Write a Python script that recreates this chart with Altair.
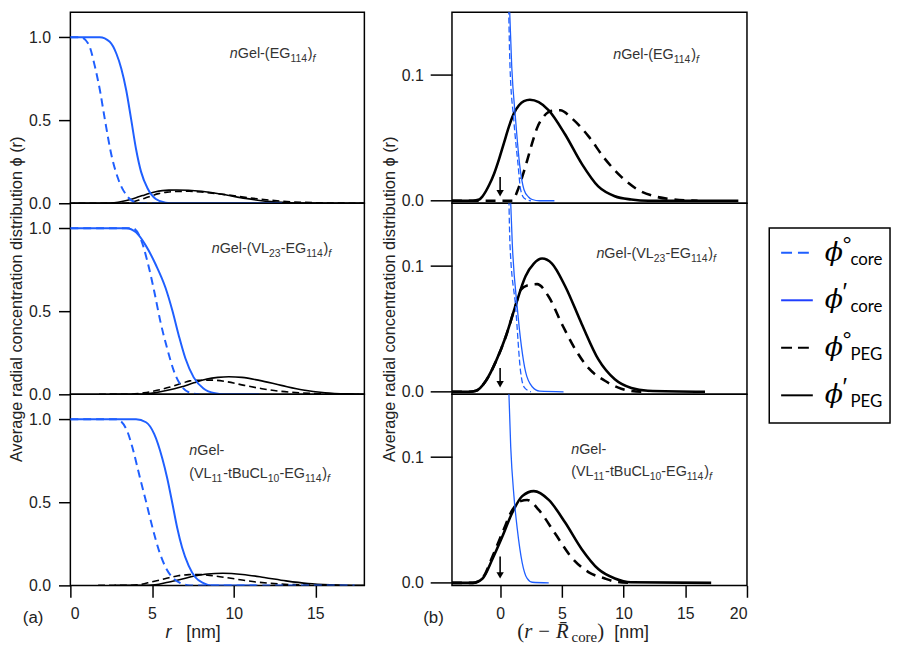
import altair as alt
import pandas as pd

# ---------------- values ----------------
# (a) core profiles phi(r); r in nm. CORE0 = phi°core (dashed), CORE1 = phi'core (solid)
CORE0_R = [
    [0, 0.6, 1.1, 1.51, 1.81, 2.11, 2.52, 2.92, 3.42, 4.02, 4.5, 6.0],
    [0, 3.82, 4.33, 4.73, 5.13, 5.53, 5.93, 6.34, 6.84, 7.44, 7.9],
    [0, 2.82, 3.42, 3.82, 4.22, 4.63, 5.03, 5.43, 5.83, 6.24, 6.74, 7.3, 17.4],
]
CORE0_PHI = [
    [1.0, 1.0, 0.96, 0.82, 0.68, 0.506, 0.288, 0.149, 0.05, 0.005, 0.0, 0.0],
    [1.0, 1.0, 0.93, 0.795, 0.622, 0.43, 0.275, 0.14, 0.044, 0.006, 0.0],
    [1.0, 1.0, 0.942, 0.823, 0.664, 0.506, 0.347, 0.208, 0.109, 0.049, 0.014, 0.0, 0.0],
]
CORE1_R = [
    [0, 1.8, 2.41, 2.82, 3.12, 3.42, 3.72, 4.02, 4.33, 4.73, 5.23, 5.83, 6.4, 12.97],
    [0, 3.42, 4.02, 4.62, 5.23, 5.83, 6.24, 6.64, 7.04, 7.55, 8.15, 8.85, 9.4, 11.56],
    [0, 4.02, 4.63, 5.13, 5.63, 5.93, 6.24, 6.54, 6.84, 7.24, 7.65, 8.15, 8.65, 11.37],
]
CORE1_PHI = [
    [1.0, 1.0, 0.972, 0.90, 0.81, 0.68, 0.506, 0.327, 0.189, 0.089, 0.026, 0.004, 0.0, 0.0],
    [1.0, 1.0, 0.975, 0.895, 0.78, 0.64, 0.506, 0.353, 0.217, 0.102, 0.035, 0.006, 0.0, 0.0],
    [1.0, 1.0, 0.982, 0.912, 0.764, 0.645, 0.496, 0.347, 0.228, 0.119, 0.049, 0.014, 0.0, 0.0],
]

# (b) core tails vs (r - Rcore)
TAIL0_U = [[0.68, 0.8, 1.1, 1.45, 1.66, 1.95, 2.5], [0.7, 0.8, 1.26, 1.66, 1.93, 2.5], []]
TAIL0_PHI = [[0.16, 0.107, 0.065, 0.029, 0.009, 0.002, 0.0], [0.16, 0.117, 0.067, 0.016, 0.004, 0.0], []]
TAIL1_U = [
    [0.74, 0.94, 1.25, 1.58, 1.93, 2.3, 2.6, 3.2, 4.4],
    [0.82, 0.99, 1.39, 2.06, 2.6, 3.2, 5.14],
    [0.68, 0.86, 1.12, 1.39, 1.79, 2.19, 2.6, 3.94],
]
TAIL1_PHI = [
    [0.16, 0.107, 0.065, 0.029, 0.009, 0.003, 0.001, 0.0, 0.0],
    [0.16, 0.117, 0.067, 0.016, 0.004, 0.0005, 0.0],
    [0.16, 0.108, 0.069, 0.043, 0.016, 0.0035, 0.0005, 0.0],
]

# PEG profiles vs (r - Rcore). PEG0 = phi°PEG (dashed), PEG1 = phi'PEG (solid)
PEG0_U = [
    [-3.9, 1.0, 1.39, 1.79, 2.19, 2.6, 3.0, 3.53, 4.2, 4.87, 5.81, 7.15, 8.49, 9.82, 11.16, 12.5, 14.1, 16.0],
    [-3.9, -2.5, -1.95, -1.15, -0.35, 0.46, 1.26, 1.66, 2.33, 3.0, 3.94, 5.0, 6.08, 7.15, 8.49, 9.82, 11.4, 12.0],
    [-3.9, -2.2, -1.42, -0.62, 0.19, 0.99, 1.66, 2.19, 3.13, 4.47, 5.81, 7.15, 8.49, 9.3, 10.5],
]
PEG0_PHI = [
    [0, 0, 0.0075, 0.019, 0.032, 0.046, 0.058, 0.067, 0.0716, 0.072, 0.0656, 0.0514, 0.0333, 0.019, 0.0088, 0.0036, 0.001, 0],
    [0, 0, 0.0008, 0.0088, 0.024, 0.044, 0.069, 0.081, 0.085, 0.0857, 0.0756, 0.054, 0.034, 0.019, 0.0088, 0.0025, 0, 0],
    [0, 0, 0.004, 0.021, 0.040, 0.058, 0.065, 0.066, 0.058, 0.039, 0.020, 0.0086, 0.0035, 0.001, 0],
]
PEG1_U = [
    [-3.9, -2.2, -1.69, -1.42, -0.88, -0.48, -0.08, 0.32, 0.72, 1.12, 1.53, 1.93, 2.41, 3.13, 3.94, 5.27, 6.61, 7.95, 9.29, 10.63, 12.0, 19.3],
    [-3.9, -2.5, -1.95, -1.15, -0.35, 0.46, 1.26, 2.06, 2.73, 3.4, 4.2, 5.27, 6.61, 7.95, 9.29, 10.63, 11.97, 16.6],
    [-3.9, -2.2, -1.42, -0.62, 0.19, 0.99, 1.79, 2.73, 3.94, 5.27, 6.6, 7.95, 9.3, 10.6, 17.1],
]
PEG1_PHI = [
    [0, 0, 0.001, 0.0036, 0.0127, 0.0217, 0.0333, 0.0463, 0.0592, 0.0695, 0.076, 0.0793, 0.0804, 0.0785, 0.072, 0.0527, 0.0295, 0.0114, 0.0036, 0.001, 0, 0],
    [0, 0, 0.0008, 0.0088, 0.024, 0.044, 0.069, 0.092, 0.102, 0.106, 0.102, 0.084, 0.054, 0.026, 0.010, 0.003, 0.0008, 0],
    [0, 0, 0.0035, 0.019, 0.037, 0.056, 0.069, 0.073, 0.066, 0.048, 0.027, 0.011, 0.0035, 0.0005, 0],
]
# mean core radii used to place the PEG profiles on the r axis (nm)
RCORE0 = [2.4, 5.65, 5.6]
RCORE1 = [4.1, 6.3, 6.6]
# arrows at r = Rcore
ARROW_TOP = [0.019, 0.019, 0.021]
ARROW_TIP = [0.006, 0.006, 0.006]

LEFT_TICKS_Y = [0, 0.5, 1.0]
LEFT_TICKS_X = [0, 5, 10, 15]
RIGHT_TICKS_Y = [0, 0.1]
RIGHT_TICKS_X = [0, 5, 10, 15, 20]

# sample labels: lines of (text, kind)
LABELS = [
    [[("n", "it"), ("Gel-(EG", "reg"), ("114", "sub"), (")", "reg"), ("f", "subit")]],
    [[("n", "it"), ("Gel-(VL", "reg"), ("23", "sub"), ("-EG", "reg"), ("114", "sub"), (")", "reg"), ("f", "subit")]],
    [[("n", "it"), ("Gel-", "reg")],
     [("(VL", "reg"), ("11", "sub"), ("-tBuCL", "reg"), ("10", "sub"), ("-EG", "reg"), ("114", "sub"), (")", "reg"), ("f", "subit")]],
]
LEFT_LABEL_AT = [[(9.76, 0.877)], [(8.65, 0.853)], [(7.28, 0.787), (7.28, 0.649)]]
RIGHT_LABEL_AT = [[(9.16, 0.113)], [(7.8, 0.1066)], [(5.76, 0.1026), (5.76, 0.0849)]]

LEGEND_NAMES = ["p0core", "p1core", "p0peg", "p1peg"]
LEGEND_SUP = ["°", "′", "°", "′"]
LEGEND_SUB = ["core", "core", "PEG", "PEG"]
LEGEND_COLOR = ["#1f5fff", "#1f3fff", "#000000", "#000000"]
LEGEND_DASHED = [True, False, True, False]

# ---------------- styling ----------------
SANS = "Liberation Sans"
SERIF = "Liberation Serif"
BLUE = "#1f5fff"
TXT = "#222222"
LBL = "#333333"
WL, WR, H = 297, 298, 193
YTITLE = "Average radial concentration distribution ϕ (r)"

ARIAL = {' ': .278, '-': .333, '(': .333, ')': .333, '[': .278, ']': .278, 'n': .556, 'm': .833,
         'G': .778, 'e': .556, 'l': .222, 'E': .667, 'V': .667, 'L': .556, 't': .278, 'B': .667,
         'u': .556, 'C': .722, 'f': .278, 'r': .333, 'a': .556}
TIMES = {'(': .333, ')': .333, ' ': .25, '−': .564, 'R': .611, 'c': .444, 'o': .5, 'r': .333, 'e': .444}


def width(text, size, font, italic=False):
    tab = ARIAL if font == SANS else TIMES
    w = 0.0
    for ch in text:
        if font == SERIF and italic and ch == 'r':
            w += 0.389
        else:
            w += tab.get(ch, 0.556 if ch.isdigit() else 0.0)
    return w * size


def rich(segs, df, enc):
    """segs: (text, size, font, italic, dy); text None = horizontal gap of `size` px"""
    out, off = [], 0.0
    for text, size, font, italic, dy in segs:
        if text is None:
            off += size
            continue
        out.append(alt.Chart(df).mark_text(
            text=text, align="left", baseline="alphabetic", dx=off, dy=dy,
            font=font, fontSize=size, fontStyle="italic" if italic else "normal",
            color=LBL if font == SANS and size < 16 else TXT
        ).encode(**enc))
        off += width(text, size, font, italic)
    return out


def label_segs(line, big=14.5, small=10.5):
    segs = []
    for text, kind in line:
        if kind == "reg":
            segs.append((text, big, SANS, False, 0))
        elif kind == "it":
            segs.append((text, big, SANS, True, 0))
        elif kind == "sub":
            segs.append((text, small, SANS, False, 4))
        else:
            segs.append((text, small, SANS, True, 4))
    return segs


def line_df(xs, ys):
    return pd.DataFrame({"x": xs, "y": ys})


ONE = pd.DataFrame({"x": [0.0], "y": [0.0]})


def panel(i, side):
    left = side == "L"
    bottom = i == 2
    if left:
        xs = alt.Scale(domain=[0, 18], nice=False, zero=False)
        ys = alt.Scale(domain=[0, 1.15], nice=False)
        xa = alt.Axis(values=LEFT_TICKS_X, format="d", tickSize=12, labelPadding=8, title=None) if bottom else None
        ya = alt.Axis(values=LEFT_TICKS_Y, format=".1f", tickSize=12, labelPadding=8,
                      title=YTITLE if i == 1 else None, titlePadding=4)
        W = WL
    else:
        xs = alt.Scale(domain=[-3.9, 20], nice=False, zero=False)
        ys = alt.Scale(domain=[-0.002, 0.15], nice=False)
        xa = alt.Axis(values=RIGHT_TICKS_X, format="d", tickSize=12, labelPadding=8, title=None) if bottom else None
        ya = alt.Axis(values=RIGHT_TICKS_Y, format=".1f", tickSize=22, labelPadding=7,
                      title=YTITLE if i == 1 else None, titlePadding=4)
        W = WR
    enc = dict(x=alt.X("x:Q", scale=xs, axis=xa), y=alt.Y("y:Q", scale=ys, axis=ya))
    layers = []
    if left:
        peg0 = line_df([u + RCORE0[i] for u in PEG0_U[i]], PEG0_PHI[i])
        peg1 = line_df([u + RCORE1[i] for u in PEG1_U[i]], PEG1_PHI[i])
        c0 = line_df(CORE0_R[i], CORE0_PHI[i])
        c1 = line_df(CORE1_R[i], CORE1_PHI[i])
        layers.append(alt.Chart(peg0).mark_line(color="black", strokeWidth=1.6, strokeDash=[7, 4],
                                                interpolate="monotone", clip=True).encode(**enc))
        layers.append(alt.Chart(peg1).mark_line(color="black", strokeWidth=1.6,
                                                interpolate="monotone", clip=True).encode(**enc))
        layers.append(alt.Chart(c0).mark_line(color=BLUE, strokeWidth=2, strokeDash=[8, 5],
                                              interpolate="monotone", clip=True).encode(**enc))
        layers.append(alt.Chart(c1).mark_line(color=BLUE, strokeWidth=2,
                                              interpolate="monotone", clip=True).encode(**enc))
        at = LEFT_LABEL_AT[i]
    else:
        peg0 = line_df(PEG0_U[i], PEG0_PHI[i])
        peg1 = line_df(PEG1_U[i], PEG1_PHI[i])
        layers.append(alt.Chart(peg0).mark_line(color="black", strokeWidth=2.6, strokeDash=[10, 7],
                                                interpolate="monotone", clip=True).encode(**enc))
        layers.append(alt.Chart(peg1).mark_line(color="black", strokeWidth=2.6,
                                                interpolate="monotone", clip=True).encode(**enc))
        if TAIL0_U[i]:
            layers.append(alt.Chart(line_df(TAIL0_U[i], TAIL0_PHI[i])).mark_line(
                color=BLUE, strokeWidth=1.3, strokeDash=[6, 3], interpolate="monotone", clip=True).encode(**enc))
        layers.append(alt.Chart(line_df(TAIL1_U[i], TAIL1_PHI[i])).mark_line(
            color=BLUE, strokeWidth=1.3, interpolate="monotone", clip=True).encode(**enc))
        arrow = pd.DataFrame({"x": [0.0], "y": [ARROW_TOP[i]], "y2": [ARROW_TIP[i]]})
        layers.append(alt.Chart(arrow).mark_rule(color="black", strokeWidth=1.6).encode(
            x=enc["x"], y=enc["y"], y2="y2:Q"))
        tip = pd.DataFrame({"x": [0.0], "y": [ARROW_TIP[i]]})
        layers.append(alt.Chart(tip).mark_point(shape="triangle-down", filled=True, color="black",
                                                size=55, opacity=1).encode(**enc))
        at = RIGHT_LABEL_AT[i]
    for line, (lx, ly) in zip(LABELS[i], at):
        layers += rich(label_segs(line), pd.DataFrame({"x": [lx], "y": [ly]}), enc)
    if bottom:
        pen = dict(y=alt.value(H + 38))
        tp = dict(y=alt.value(H + 53))
        if left:
            layers += rich([("(a)", 17, SANS, False, 0)], ONE, dict(x=alt.value(-48), **pen))
            layers += rich([("r", 18, SANS, True, 0)], ONE, dict(x=alt.value(96), **tp))
            layers += rich([("[nm]", 18, SANS, False, 0)], ONE, dict(x=alt.value(117), **tp))
        else:
            layers += rich([("(b)", 17, SANS, False, 0)], ONE, dict(x=alt.value(-29), **pen))
            segs = [("(", 21, SERIF, False, 0), ("r", 21, SERIF, True, 0), (None, 6, None, False, 0),
                    ("−", 21, SERIF, False, 0), (None, 6, None, False, 0),
                    ("R̄", 21, SERIF, True, 0), (None, 3, None, False, 0),
                    ("core", 15, SERIF, False, 4), (")", 21, SERIF, False, 0)]
            layers += rich(segs, ONE, dict(x=alt.value(66), **tp))
            layers += rich([("[nm]", 18, SANS, False, 0)], ONE, dict(x=alt.value(164), **tp))
    return alt.layer(*layers).properties(width=W, height=H)


left = alt.vconcat(*[panel(i, "L") for i in range(3)], spacing=0, bounds="flush")
right = alt.vconcat(*[panel(i, "R") for i in range(3)], spacing=0, bounds="flush")

# ---------------- legend ----------------
LW, LH = 122, 415
leg = pd.DataFrame({"name": LEGEND_NAMES, "sup": LEGEND_SUP, "sub": LEGEND_SUB,
                    "col": LEGEND_COLOR, "dashed": LEGEND_DASHED})
ly = alt.Y("name:N", scale=alt.Scale(type="point", domain=LEGEND_NAMES, range=[243, 387], padding=0), axis=None)
box = alt.Chart(ONE).mark_rect(fill="white", stroke="black", strokeWidth=1.5).encode(
    x=alt.value(0), x2=alt.value(LW), y=alt.value(218), y2=alt.value(LH))
dash_rules = alt.Chart(leg).transform_filter("datum.dashed").mark_rule(strokeWidth=2, strokeDash=[11, 6]).encode(
    x=alt.value(12), x2=alt.value(44), y=ly, color=alt.Color("col:N", scale=None))
solid_rules = alt.Chart(leg).transform_filter("!datum.dashed").mark_rule(strokeWidth=2).encode(
    x=alt.value(12), x2=alt.value(44), y=ly, color=alt.Color("col:N", scale=None))
phi = alt.Chart(leg).mark_text(text="ϕ", font="DejaVu Serif", fontStyle="italic", fontSize=27,
                               align="left", baseline="middle", color="black").encode(x=alt.value(56), y=ly)
sup = alt.Chart(leg).mark_text(font="Liberation Sans", fontSize=24, fontStyle="italic", align="left",
                               baseline="middle", dy=-7, color="black").encode(x=alt.value(73), y=ly, text="sup:N")
sub = alt.Chart(leg).mark_text(font="Lato", fontSize=17, align="left", baseline="middle",
                               dy=7, color="black").encode(x=alt.value(82), y=ly, text="sub:N")
legend = alt.layer(box, dash_rules, solid_rules, phi, sup, sub).properties(
    width=LW, height=LH, view=alt.ViewBackground(stroke="transparent"))

top = alt.hconcat(left, right, spacing=15.5, bounds="full")
chart = alt.hconcat(top, legend, spacing=19, bounds="full").properties(padding=0)
chart = chart.configure_view(stroke="black", strokeWidth=1.5).configure_axis(
    labelFont=SANS, labelFontSize=16, labelColor=TXT, tickColor="black", tickWidth=1.5,
    domain=False, grid=False, titleFont=SANS, titleFontSize=16.5, titleFontWeight="normal",
    titleColor=TXT
)
chart.save("out.html", embed_options={"renderer": "svg", "actions": False})
